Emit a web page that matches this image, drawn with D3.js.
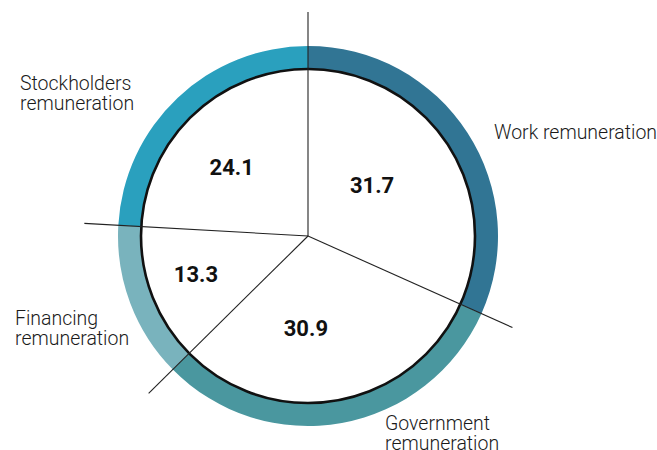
<!DOCTYPE html>
<html>
<head>
<meta charset="utf-8">
<script src="https://cdn.jsdelivr.net/npm/d3@7"></script>
<style>
  html, body { margin: 0; padding: 0; background: #fff; }
  svg { display: block; }
</style>
</head>
<body>
<svg id="chart" width="657" height="450"></svg>
<script>
const categories = ["Work remuneration", "Government remuneration", "Financing remuneration", "Stockholders remuneration"];
const values = [31.7, 30.9, 13.3, 24.1];
const valueLabels = ["31.7", "30.9", "13.3", "24.1"];
const nameLines = [["Work remuneration"], ["Government", "remuneration"], ["Financing", "remuneration"], ["Stockholders", "remuneration"]];
const colors = ["#317594", "#4a979f", "#79b3bd", "#2aa0be"];

// layout
const W = 657, H = 450;
const cx = 308, cy = 236;
const rOuter = 190, rInner = 167, rLine = 224;
const valueOffsets = [[-6, -5], [-17, 10], [-34, 9], [-19, -8]];
const nameAnchors = [[494, 139], [385, 430], [15, 325], [20, 90]];
const lineGap = 19.5;
const condense = 0.95;

const svg = d3.select("#chart");
const g = svg.append("g").attr("transform", `translate(${cx},${cy})`);

const pie = d3.pie().sort(null).value(d => d)(values);
const ring = d3.arc().innerRadius(rInner).outerRadius(rOuter);
const inner = d3.arc().innerRadius(0).outerRadius(rInner);

g.selectAll("path.ring").data(pie).join("path")
  .attr("class", "ring")
  .attr("d", ring)
  .attr("fill", (d, i) => colors[i]);

g.append("circle").attr("r", rInner).attr("fill", "#fff")
  .attr("stroke", "#111").attr("stroke-width", 2.6);

// divider lines
g.selectAll("line.div").data(pie).join("line")
  .attr("class", "div")
  .attr("x1", 0).attr("y1", 0)
  .attr("x2", d => rLine * Math.sin(d.startAngle))
  .attr("y2", d => -rLine * Math.cos(d.startAngle))
  .attr("stroke", "#222").attr("stroke-width", 1.1);

// value labels
g.selectAll("text.val").data(pie).join("text")
  .attr("class", "val")
  .attr("x", (d, i) => inner.centroid(d)[0] + valueOffsets[i][0])
  .attr("y", (d, i) => inner.centroid(d)[1] + valueOffsets[i][1])
  .attr("text-anchor", "middle")
  .attr("dominant-baseline", "central")
  .attr("font-family", "Roboto, 'Open Sans', sans-serif")
  .attr("font-weight", 700)
  .attr("font-size", 22)
  .attr("fill", "#111")
  .text((d, i) => valueLabels[i]);

// category labels
nameLines.forEach((lines, i) => {
  lines.forEach((ln, j) => {
    const t = svg.append("text")
      .attr("x", nameAnchors[i][0])
      .attr("y", nameAnchors[i][1] + j * lineGap)
      .attr("font-family", "Roboto, 'Open Sans', sans-serif")
      .attr("font-weight", 300)
      .attr("font-size", 20.5)
      .attr("fill", "#1a1a1a")
      .text(ln);
    const len = t.node().getComputedTextLength();
    t.attr("textLength", len * condense).attr("lengthAdjust", "spacingAndGlyphs");
  });
});
</script>
</body>
</html>
